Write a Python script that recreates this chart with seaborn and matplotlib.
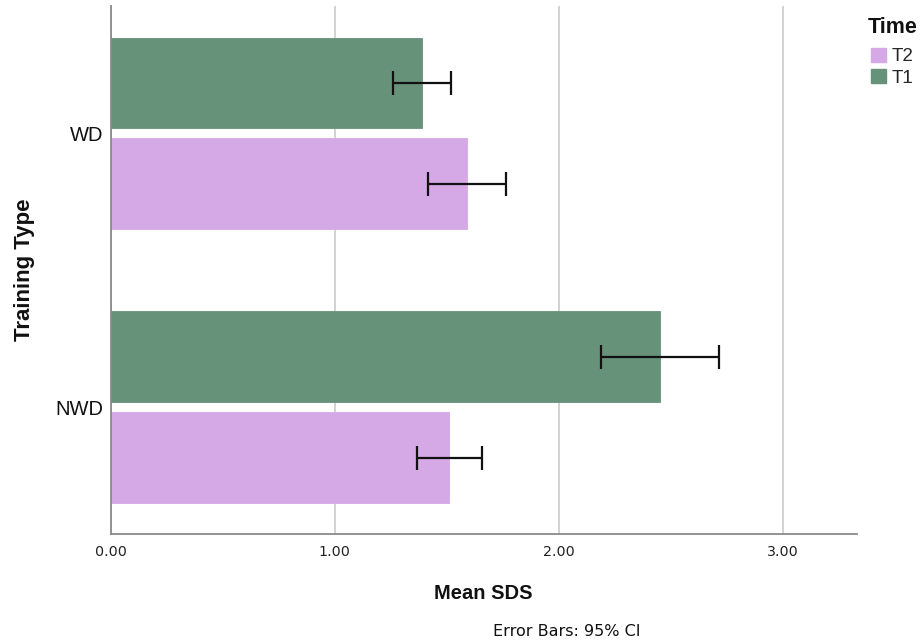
import matplotlib
matplotlib.use("Agg")
import matplotlib.pyplot as plt
import matplotlib.patches as mpatches
import seaborn as sns
import pandas as pd

# ---- data ----
categories = ["WD", "NWD"]
times = ["T1", "T2"]
t1_means = [1.392, 2.453]
t1_ci_low = [1.260, 2.190]
t1_ci_high = [1.520, 2.718]
t2_means = [1.592, 1.512]
t2_ci_low = [1.417, 1.367]
t2_ci_high = [1.767, 1.657]
x_ticks = [0.0, 1.0, 2.0, 3.0]
x_tick_labels = ["0.00", "1.00", "2.00", "3.00"]
legend_labels = ["T2", "T1"]

green = "#67927a"
purple = "#d5a8e6"

df = pd.DataFrame({
    "Training Type": categories * 2,
    "Time": ["T1"] * 2 + ["T2"] * 2,
    "Mean SDS": t1_means + t2_means,
    "lo": t1_ci_low + t2_ci_low,
    "hi": t1_ci_high + t2_ci_high,
})

sns.set_theme(style="white")
plt.rcParams["font.family"] = ["Liberation Sans", "DejaVu Sans"]

fig = plt.figure(figsize=(9.24, 6.42), dpi=100)
ax = fig.add_axes([110.5 / 924, 1 - 533.7 / 642, (856.7 - 110.5) / 924, (533.7 - 6) / 642])

sns.barplot(data=df, y="Training Type", x="Mean SDS", hue="Time",
            order=categories, hue_order=times,
            palette={"T1": green, "T2": purple},
            orient="h", errorbar=None, width=0.738, gap=0.099,
            saturation=1, linewidth=0.6, ax=ax, legend=False, zorder=2)

for cont, t in zip(ax.containers, times):
    sub = df[df["Time"] == t].set_index("Training Type").loc[categories]
    for bar, (_, row) in zip(cont.patches, sub.iterrows()):
        bar.set_edgecolor(bar.get_facecolor())
        yc = bar.get_y() + bar.get_height() / 2
        ax.errorbar(x=[row["Mean SDS"]], y=[yc],
                    xerr=[[row["Mean SDS"] - row["lo"]], [row["hi"] - row["Mean SDS"]]],
                    fmt="none", ecolor="#111111", elinewidth=1.6, capsize=8.5,
                    capthick=1.6, zorder=4)

ax.set_xlim(0, 3.331)
ax.set_ylim(1.463, -0.466)
ax.set_xticks(x_ticks)
ax.set_xticklabels(x_tick_labels, fontfamily="DejaVu Sans", fontsize=10.3)
ax.tick_params(axis="x", length=0, pad=8, colors="#222222")
ax.tick_params(axis="y", length=0, pad=5, labelsize=14.5, colors="#111111")

ax.grid(axis="x", color="#d2d2d2", linewidth=1.4, zorder=0)
ax.set_axisbelow(True)
for s in ["top", "right"]:
    ax.spines[s].set_visible(False)
for s in ["left", "bottom"]:
    ax.spines[s].set_color("#8a8a8a")
    ax.spines[s].set_linewidth(1.3)

ax.set_xlabel("Mean SDS", fontsize=14.5, fontweight="bold", labelpad=18, color="#111111")
ax.set_ylabel("Training Type", fontsize=16, fontweight="bold", color="#111111")
ax.yaxis.set_label_coords(-0.101, 0.5)

# legend title and entries
fig.text(868 / 924, 1 - 32.7 / 642, "Time", fontsize=15.5, fontweight="bold",
         ha="left", va="baseline", color="#111111")
handles = [mpatches.Patch(facecolor=purple, edgecolor=purple),
           mpatches.Patch(facecolor=green, edgecolor=green)]
fig.legend(handles, legend_labels, loc="upper left",
           bbox_to_anchor=(871 / 924, 1 - 47.5 / 642), frameon=False,
           fontsize=13.5, handlelength=0.8, handleheight=0.8, handletextpad=0.3,
           labelspacing=0.2, borderpad=0, borderaxespad=0)

fig.text(493.3 / 924, 1 - 636 / 642, "Error Bars: 95% CI", fontsize=11.5,
         fontfamily="DejaVu Sans", ha="left", va="baseline", color="#111111")

fig.savefig("out.png", dpi=100)
